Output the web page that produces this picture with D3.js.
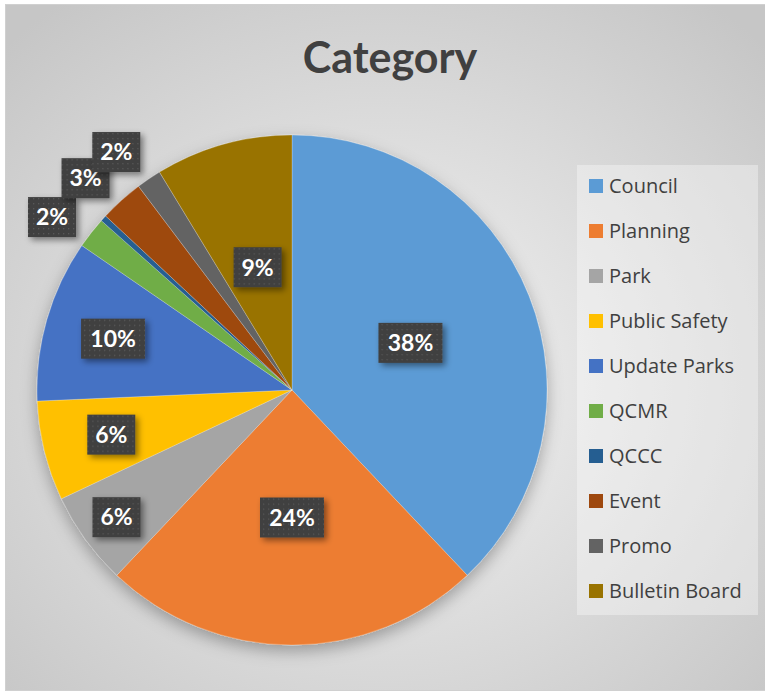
<!DOCTYPE html>
<html>
<head>
<meta charset="utf-8">
<script src="https://cdn.jsdelivr.net/npm/d3@7"></script>
<style>
  body { margin: 0; background: #fff; }
  svg { display: block; }
</style>
</head>
<body>
<svg id="drawing_region"></svg>
<script>
// data (counts that reproduce the shares)
const categories = ['Council', 'Planning', 'Park', 'Public Safety', 'Update Parks',
                    'QCMR', 'QCCC', 'Event', 'Promo', 'Bulletin Board'];
const counts = [96, 61, 15, 16, 26, 5, 1, 7, 4, 22];
const colors = ['#5B9BD5', '#ED7D31', '#A5A5A5', '#FFC000', '#4472C4',
                '#70AD47', '#255E91', '#9E480E', '#636363', '#997300'];

const width = 765, height = 692;
const cx = 292, cy = 390, radius = 255;

const svg = d3.select('#drawing_region')
    .attr('width', width)
    .attr('height', height);

const defs = svg.append('defs');

const bg = defs.append('radialGradient')
    .attr('id', 'bg')
    .attr('cx', '50%').attr('cy', '55%').attr('r', '70%');
bg.append('stop').attr('offset', '0%').attr('stop-color', '#f4f4f4');
bg.append('stop').attr('offset', '100%').attr('stop-color', '#c6c6c6');

const dots = defs.append('pattern')
    .attr('id', 'dots')
    .attr('patternUnits', 'userSpaceOnUse')
    .attr('width', 5).attr('height', 5);
dots.append('rect').attr('width', 5).attr('height', 5).attr('fill', '#3f3f3f');
dots.append('rect').attr('x', 1).attr('y', 1).attr('width', 1.3).attr('height', 1.3).attr('fill', '#5a5a5a');

const shadow = defs.append('filter').attr('id', 'shadow')
    .attr('x', '-20%').attr('y', '-20%').attr('width', '150%').attr('height', '160%');
shadow.append('feDropShadow')
    .attr('dx', 3).attr('dy', 3).attr('stdDeviation', 3)
    .attr('flood-color', '#000').attr('flood-opacity', 0.45);

const pieShadow = defs.append('filter').attr('id', 'pieShadow')
    .attr('x', '-20%').attr('y', '-20%').attr('width', '140%').attr('height', '140%');
pieShadow.append('feDropShadow')
    .attr('dx', 0).attr('dy', 6).attr('stdDeviation', 8)
    .attr('flood-color', '#000').attr('flood-opacity', 0.3);

// chart area
svg.append('rect')
    .attr('x', 5.5).attr('y', 4.5)
    .attr('width', width - 5).attr('height', 686)
    .attr('fill', 'url(#bg)')
    .attr('stroke', '#d0d0d0');

svg.append('text')
    .attr('x', 390).attr('y', 73)
    .attr('text-anchor', 'middle')
    .attr('font-family', 'Lato, "Open Sans", sans-serif')
    .attr('font-weight', 'bold')
    .attr('font-size', 43)
    .attr('fill', '#404040')
    .text('Category');

const total = d3.sum(counts);
const data = categories.map((c, i) => ({ name: c, value: counts[i], color: colors[i] }));

const pie = d3.pie().sort(null).value(d => d.value);
const arcs = pie(data);

const arc = d3.arc().innerRadius(0).outerRadius(radius);

const chart = svg.append('g')
    .attr('transform', `translate(${cx}, ${cy})`);

chart.append('g')
    .attr('filter', 'url(#pieShadow)')
    .selectAll('path')
    .data(arcs)
    .join('path')
    .attr('d', arc)
    .attr('fill', d => d.data.color)
    .attr('stroke', '#ffffff')
    .attr('stroke-opacity', 0.4)
    .attr('stroke-width', 0.6);

// label placement (best fit): big slices mid-radius, small ones outside
function labelPos(d) {
    const share = d.data.value / total;
    let r, a = (d.startAngle + d.endAngle) / 2;
    if (share < 0.035) { r = radius * 1.16; a -= 0.04; }
    else if (share > 0.2 || d.data.name === 'Bulletin Board') r = radius * 0.5;
    else if (share < 0.062) r = radius * 0.85;
    else r = radius * 0.73;
    return [Math.sin(a) * r, -Math.cos(a) * r];
}

const labels = chart.append('g')
    .selectAll('g')
    .data(arcs.filter(d => Math.round(d.data.value / total * 100) > 0))
    .join('g')
    .attr('transform', d => `translate(${labelPos(d)})`);

labels.each(function(d) {
    const g = d3.select(this);
    const txt = Math.round(d.data.value / total * 100) + '%';
    const w = txt.length === 3 ? 64 : 48;
    g.append('rect')
        .attr('x', -w / 2).attr('y', -20)
        .attr('width', w).attr('height', 40)
        .attr('fill', 'url(#dots)')
        .attr('filter', 'url(#shadow)');
    g.append('text')
        .attr('text-anchor', 'middle')
        .attr('dy', '0.36em')
        .attr('font-family', 'Lato, "Open Sans", sans-serif')
        .attr('font-weight', 'bold')
        .attr('font-size', 23)
        .attr('fill', '#ffffff')
        .text(txt);
});

// legend
const legend = svg.append('g')
    .attr('transform', 'translate(577, 165)');

legend.append('rect')
    .attr('width', 181).attr('height', 450)
    .attr('fill', '#ffffff')
    .attr('fill-opacity', 0.35);

const items = legend.selectAll('g')
    .data(data)
    .join('g')
    .attr('transform', (d, i) => `translate(12, ${21 + i * 45})`);

items.append('rect')
    .attr('x', 0).attr('y', -7)
    .attr('width', 14).attr('height', 14)
    .attr('fill', d => d.color);

items.append('text')
    .attr('x', 20)
    .attr('dy', '0.35em')
    .attr('font-family', '"Open Sans", sans-serif')
    .attr('font-size', 20)
    .attr('fill', '#404040')
    .text(d => d.name);
</script>
</body>
</html>
